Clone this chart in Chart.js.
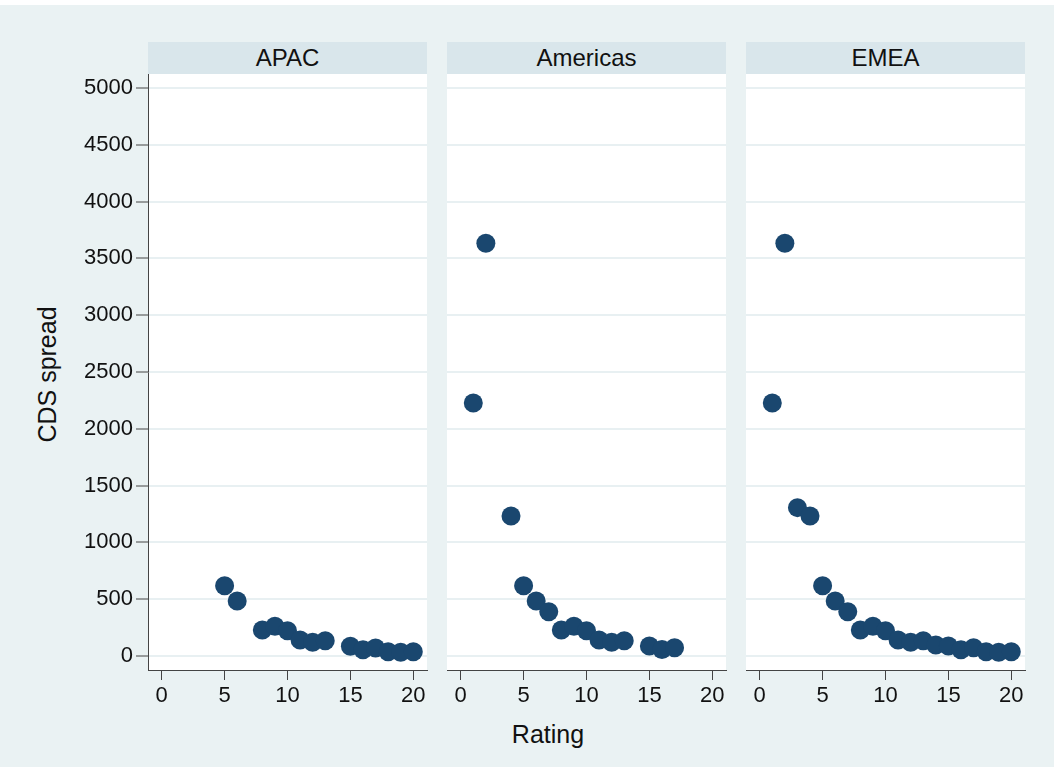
<!DOCTYPE html>
<html>
<head>
<meta charset="utf-8">
<script src="https://cdn.jsdelivr.net/npm/chart.js@4"></script>
<style>
  body { margin: 0; width: 1054px; height: 772px; background: #fff; position: relative; overflow: hidden;
         font-family: "Liberation Sans", Arial, sans-serif; color: #111; }
  .bg { position: absolute; left: 0; top: 5px; width: 1054px; height: 762px; background: #eaf2f3; }
  .strip { position: absolute; top: 42px; height: 32px; width: 279px; background: #d9e6eb;
           font-size: 24px; line-height: 32px; text-align: center; }
  canvas { position: absolute; top: 74px; }
  .xtitle { position: absolute; left: 448px; width: 200px; top: 722px; font-size: 25px; line-height: 25px; text-align: center; }
  .ytitle { position: absolute; left: -53px; top: 362px; width: 200px; font-size: 25px; line-height: 25px;
            text-align: center; transform: rotate(-90deg); }
</style>
</head>
<body>
<div class="bg"></div>
<div class="ytitle">CDS spread</div>
<div class="xtitle">Rating</div>
<script>
// Panels (regions)
const regions = ["APAC", "Americas", "EMEA"];

// Rating values per region
const ratingsAPAC = [5, 6, 8, 9, 10, 11, 12, 13, 15, 16, 17, 18, 19, 20];
const ratingsAmericas = [1, 2, 4, 5, 6, 7, 8, 9, 10, 11, 12, 13, 15, 16, 17];
const ratingsEMEA = [1, 2, 3, 4, 5, 6, 7, 8, 9, 10, 11, 12, 13, 14, 15, 16, 17, 18, 19, 20];

// CDS spread values per region
const spreadAPAC = [619, 484, 229, 262, 223, 141, 122, 135, 86, 55, 70, 38, 33, 38];
const spreadAmericas = [2227, 3633, 1232, 619, 484, 390, 229, 262, 223, 141, 122, 135, 89, 57, 73];
const spreadEMEA = [2227, 3633, 1306, 1232, 619, 484, 390, 229, 262, 223, 141, 122, 135, 97, 89, 55, 73, 38, 33, 38];

// Tick labels
const xTicks = [0, 5, 10, 15, 20];
const yTicks = [0, 500, 1000, 1500, 2000, 2500, 3000, 3500, 4000, 4500, 5000];

const ratingsByRegion = [ratingsAPAC, ratingsAmericas, ratingsEMEA];
const spreadByRegion = [spreadAPAC, spreadAmericas, spreadEMEA];

// white plot region behind the grid
const plotBackground = {
  id: "plotBackground",
  beforeDraw(chart) {
    const { ctx, chartArea: a } = chart;
    ctx.save();
    ctx.fillStyle = "#ffffff";
    ctx.fillRect(a.left, a.top, a.right - a.left, a.bottom - a.top);
    ctx.restore();
  },
};

document.addEventListener("DOMContentLoaded", () => {
  const panelLeft = [148, 447, 746];
  const panelWidth = 279;
  const plotHeight = 596; // 74 -> 670
  const xAxisHeight = 50;

  regions.forEach((name, i) => {
    // header strip
    const strip = document.createElement("div");
    strip.className = "strip";
    strip.style.left = panelLeft[i] + "px";
    strip.textContent = name;
    document.body.appendChild(strip);

    const first = i === 0;
    const yAxisWidth = first ? 148 : 0;
    const canvas = document.createElement("canvas");
    canvas.width = yAxisWidth + panelWidth + 20;
    canvas.height = plotHeight + xAxisHeight;
    canvas.style.left = (panelLeft[i] - yAxisWidth) + "px";
    document.body.appendChild(canvas);

    const points = ratingsByRegion[i].map((r, k) => ({ x: r, y: spreadByRegion[i][k] }));

    new Chart(canvas.getContext("2d"), {
      type: "scatter",
      data: {
        datasets: [{
          data: points,
          backgroundColor: "#1a476f",
          borderColor: "#1a476f",
          borderWidth: 0,
          pointRadius: 9.5,
          pointHoverRadius: 9.5,
        }],
      },
      plugins: [plotBackground],
      options: {
        responsive: false,
        animation: false,
        layout: { autoPadding: false, padding: { left: 0, right: 20, top: 0, bottom: 0 } },
        plugins: { legend: { display: false }, tooltip: { enabled: false } },
        scales: {
          x: {
            type: "linear",
            min: -1.09,
            max: 21.09,
            afterBuildTicks: (s) => { s.ticks = xTicks.map((v) => ({ value: v })); },
            afterFit: (s) => { s.height = xAxisHeight; s.paddingLeft = 0; s.paddingRight = 0; },
            ticks: { color: "#111", font: { family: "Liberation Sans", size: 22 }, padding: 3, maxRotation: 0 },
            grid: { drawOnChartArea: false, drawTicks: true, tickLength: 10, color: "#444", lineWidth: 1 },
            border: { display: true, color: "#444", width: 1 },
          },
          y: {
            type: "linear",
            min: -123,
            max: 5123,
            afterBuildTicks: (s) => { s.ticks = yTicks.map((v) => ({ value: v })); },
            afterFit: (s) => { s.width = yAxisWidth; s.paddingTop = 0; s.paddingBottom = 0; },
            ticks: {
              display: first,
              color: "#111",
              font: { family: "Liberation Sans", size: 22 },
              padding: 3,
              callback: (v) => String(v),
            },
            grid: { color: "#e8f0f2", lineWidth: 2, drawTicks: first, tickLength: 12, tickColor: "#444", tickWidth: 1 },
            border: { display: first, color: "#444", width: 1 },
          },
        },
      },
    });
  });
});
</script>
</body>
</html>
